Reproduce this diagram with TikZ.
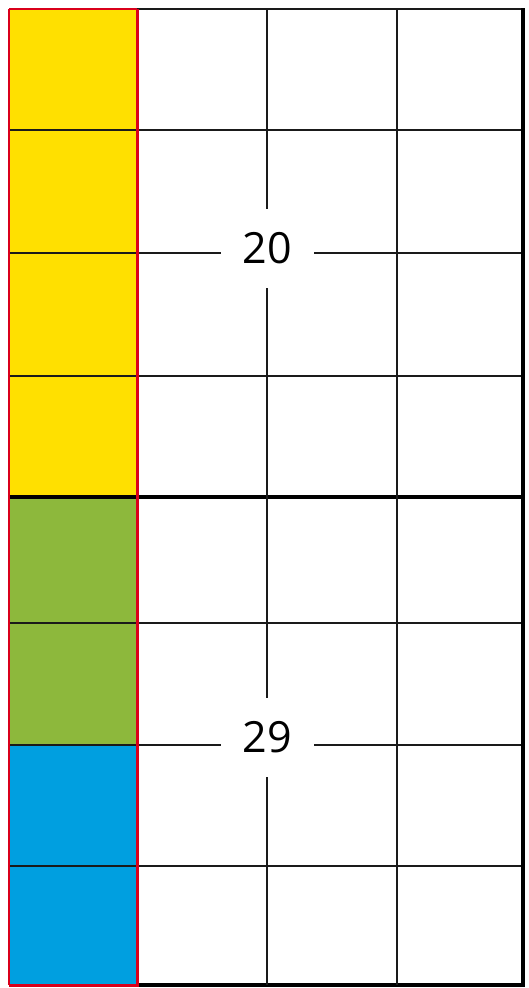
\documentclass[tikz,border=0pt]{standalone}
\usepackage{fontspec}
\setmainfont{Open Sans}
\definecolor{cyel}{HTML}{FFE000}
\definecolor{cgrn}{HTML}{8DB83C}
\definecolor{cblu}{HTML}{009FE0}
\definecolor{cred}{HTML}{D9001B}
\definecolor{cgrid}{HTML}{1A1A1A}
\begin{document}
\begin{tikzpicture}[x=1pt,y=-1pt,
  gridline/.style={draw=cgrid,line width=2pt},
  thickline/.style={draw=black,line width=3.2pt},
  redline/.style={draw=cred,line width=3pt},
  numlabel/.style={fill=white,inner sep=0pt,minimum width=93pt,minimum height=79pt,font=\fontsize{43}{43}\selectfont}]
\useasboundingbox (0,0) rectangle (529,988);
% colored column
\fill[cyel] (9,9) rectangle (137,497);
\fill[cgrn] (9,497) rectangle (137,745);
\fill[cblu] (9,745) rectangle (137,985);
% horizontal grid lines
\foreach \y in {130,253,376,623,745,866} {
  \draw[gridline] (9,\y) -- (523,\y);
}
\draw[gridline] (9,9) -- (523,9);
\draw[thickline] (9,497) -- (523,497);
\draw[thickline] (137,985) -- (524.6,985);
% vertical grid lines
\foreach \x in {267,397} {
  \draw[gridline] (\x,9) -- (\x,985);
}
\draw[thickline] (523,8) -- (523,986.6);
% red lines
\draw[draw=cred,line width=1.6pt] (9,9) -- (9,985);
\draw[draw=cred,line width=1.3pt] (9,9) -- (137,9);
\draw[redline] (137,9) -- (137,986.5);
\draw[redline] (9,985) -- (137,985);
% labels
\node[numlabel] (n20) at (267,248) {20};
\node[numlabel] (n29) at (267,737.5) {29};
\end{tikzpicture}
\end{document}
